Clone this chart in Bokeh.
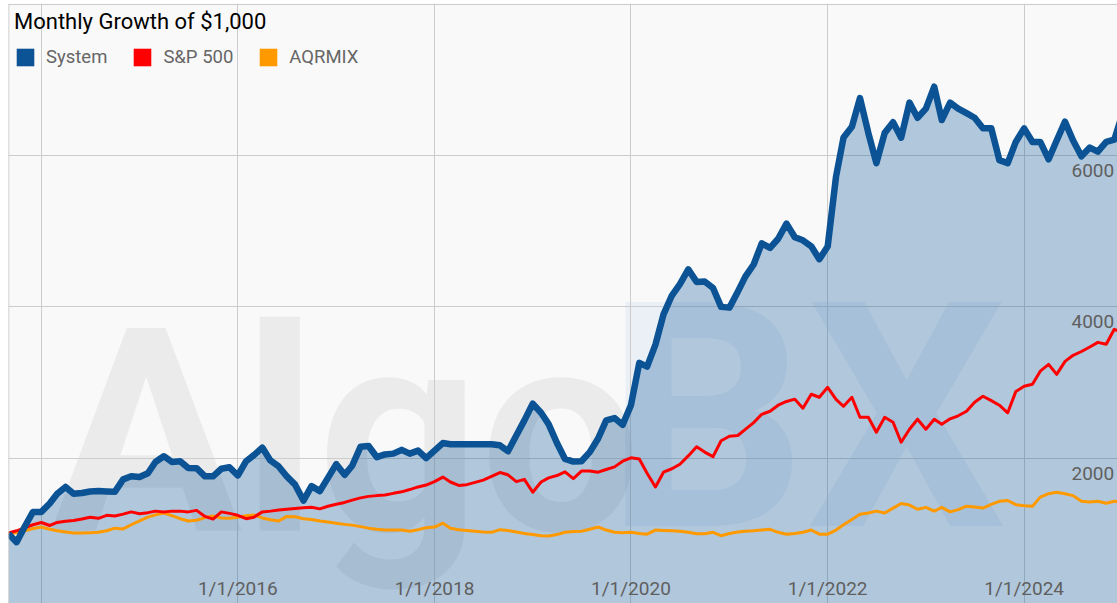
import pandas as pd
from bokeh.plotting import figure
from bokeh.models import (Range1d, Grid, FixedTicker, Span, Legend, LegendItem,
                          Label, ColumnDataSource)
from bokeh.core.properties import value
from bokeh.embed import file_html
from bokeh.resources import INLINE

# ---------------- data ----------------
START = "2013-09-01"
system = [1000, 890, 1100, 1290, 1290, 1400, 1530, 1620, 1530, 1540,
          1560, 1565, 1560, 1555, 1720, 1760, 1750, 1800, 1950, 2026,
          1950, 1960, 1870, 1868, 1760, 1760, 1860, 1880, 1770, 1960,
          2040, 2140, 1970, 1890, 1760, 1650, 1440, 1630, 1565, 1740,
          1921, 1780, 1900, 2150, 2160, 2013, 2050, 2060, 2110, 2060,
          2100, 2000, 2100, 2200, 2185, 2185, 2185, 2185, 2185, 2185,
          2170, 2092, 2300, 2500, 2720, 2600, 2450, 2200, 1990, 1955,
          1960, 2080, 2260, 2500, 2530, 2440, 2700, 3260, 3210, 3500,
          3900, 4150, 4300, 4495, 4330, 4336, 4250, 4000, 3990, 4200,
          4400, 4560, 4840, 4780, 4900, 5100, 4920, 4880, 4800, 4630,
          4798, 5720, 6240, 6380, 6760, 6300, 5900, 6300, 6440, 6237,
          6700, 6500, 6620, 6910, 6470, 6700, 6620, 6560, 6500, 6360,
          6360, 5940, 5900, 6180, 6360, 6180, 6180, 5950, 6200, 6448,
          6200, 5990, 6105, 6052, 6180, 6210, 6560]
sp500 = [1010, 1040, 1080, 1120, 1150, 1110, 1150, 1165, 1175, 1195,
         1220, 1205, 1245, 1235, 1260, 1290, 1265, 1280, 1300, 1290,
         1300, 1300, 1290, 1310, 1230, 1195, 1290, 1270, 1245, 1200,
         1220, 1290, 1300, 1315, 1325, 1335, 1345, 1350, 1330, 1365,
         1390, 1415, 1445, 1475, 1495, 1505, 1512, 1535, 1555, 1585,
         1620, 1645, 1690, 1750, 1685, 1640, 1650, 1680, 1710, 1760,
         1810, 1780, 1690, 1720, 1550, 1685, 1740, 1770, 1820, 1730,
         1830, 1830, 1815, 1850, 1885, 1960, 2005, 1990, 1800, 1620,
         1815, 1860, 1920, 2030, 2150, 2080, 2020, 2230, 2290, 2300,
         2380, 2470, 2580, 2620, 2700, 2750, 2780, 2660, 2845, 2805,
         2937, 2778, 2686, 2805, 2541, 2541, 2343, 2541, 2475, 2211,
         2383, 2515, 2383, 2515, 2449, 2520, 2560, 2620, 2739, 2818,
         2760, 2700, 2600, 2880, 2950, 2977, 3150, 3240, 3108, 3280,
         3360, 3410, 3470, 3531, 3505, 3703, 3660]
aqrmix = [1000, 1015, 1040, 1070, 1090, 1060, 1040, 1025, 1010, 1010,
          1015, 1020, 1040, 1075, 1065, 1120, 1170, 1220, 1250, 1275,
          1240, 1200, 1170, 1180, 1215, 1235, 1210, 1205, 1220, 1240,
          1250, 1210, 1185, 1170, 1230, 1225, 1200, 1190, 1170, 1155,
          1140, 1125, 1115, 1095, 1075, 1060, 1050, 1050, 1050, 1035,
          1055, 1080, 1090, 1140, 1075, 1055, 1045, 1035, 1025, 1020,
          1055, 1045, 1025, 1005, 990, 975, 970, 990, 1020, 1030,
          1035, 1060, 1090, 1050, 1020, 1015, 1020, 1005, 995, 1050,
          1045, 1040, 1035, 1020, 1000, 1000, 1020, 975, 1005, 1025,
          1035, 1040, 1050, 1060, 1020, 995, 1005, 1020, 1050, 995,
          995, 1050, 1120, 1190, 1260, 1275, 1300, 1275, 1340, 1400,
          1380, 1325, 1350, 1300, 1350, 1290, 1320, 1365, 1355, 1340,
          1390, 1430, 1440, 1385, 1370, 1365, 1485, 1530, 1550, 1530,
          1505, 1430, 1420, 1430, 1405, 1430, 1425]

x_tick_dates = ["2016-01-01", "2018-01-01", "2020-01-01", "2022-01-01", "2024-01-01"]
x_tick_labels = ["1/1/2016", "1/1/2018", "1/1/2020", "1/1/2022", "1/1/2024"]
x_grid_dates = ["2014-01-01", "2016-01-01", "2018-01-01", "2020-01-01",
                "2022-01-01", "2024-01-01"]
y_ticks = [2000, 4000, 6000]
y_tick_labels = ["2000", "4000", "6000"]
y_grid = [2000, 4000, 6000, 8000]

title_text = "Monthly Growth of $1,000"
series_names = ["System", "S&P 500", "AQRMIX"]
SYS_C, SP_C, AQR_C = "#0b5394", "#ff0000", "#ff9900"

# ---------------- figure ----------------
dates = pd.date_range(START, periods=len(system), freq="MS")
src = ColumnDataSource(dict(date=dates, system=system, sp500=sp500, aqrmix=aqrmix))

x_start = dates[0]
x_end = pd.Timestamp("2024-01-01") + pd.Timedelta(days=0.95 * 365.25)
Y_START, Y_END = 79, 8010

p = figure(width=1117, height=603, output_backend="svg", toolbar_location=None,
           x_axis_type=None, y_axis_type=None,
           x_range=Range1d(x_start, x_end), y_range=Range1d(Y_START, Y_END),
           min_border_left=8, min_border_top=3, min_border_right=0, min_border_bottom=0,
           background_fill_color="#f9f9f9", border_fill_color="#ffffff",
           outline_line_color=None)

def ms(d):
    return pd.Timestamp(d).value // 10**6

p.add_layout(Grid(dimension=0, ticker=FixedTicker(ticks=[ms(d) for d in x_grid_dates]),
                  grid_line_color="#cccccc", grid_line_width=1))
p.add_layout(Grid(dimension=1, ticker=FixedTicker(ticks=y_grid),
                  grid_line_color="#cccccc", grid_line_width=1))
p.add_layout(Span(location=ms(x_start), dimension="height",
                  line_color="#c4c4c4", line_width=1.5))

# watermark
p.add_layout(Label(x=42, y=170, x_units="screen", y_units="screen", text="Algo",
                   text_align="left", text_baseline="alphabetic",
                   text_font="Roboto", text_font_style="bold", text_font_size="285px",
                   text_color="#000000", text_alpha=0.055, level="image"))
p.add_layout(Label(x=597, y=185, x_units="screen", y_units="screen", text="BX",
                   text_align="left", text_baseline="alphabetic",
                   text_font="Roboto", text_font_style="bold", text_font_size="315px",
                   text_color="#2f7fd0", text_alpha=0.065, level="image"))

# series
p.varea(x="date", y1=0, y2="system", source=src, fill_color=SYS_C, fill_alpha=0.3)
p.line(x="date", y="aqrmix", source=src, line_color=AQR_C, line_width=3, line_join="round")
p.line(x="date", y="sp500", source=src, line_color=SP_C, line_width=3, line_join="round")
p.line(x="date", y="system", source=src, line_color=SYS_C, line_width=6.5, line_join="round")

# tick labels (inside plot, Google-chart style)
xl = ColumnDataSource(dict(x=pd.to_datetime(x_tick_dates), y=[Y_START] * len(x_tick_dates),
                           t=x_tick_labels))
p.text(x="x", y="y", text="t", source=xl, text_align="center", text_baseline="middle",
       y_offset=-15, text_font=value("Roboto"), text_font_size="19px",
       text_color="#5f5f5f")
yl = ColumnDataSource(dict(x=[x_end] * len(y_ticks), y=y_ticks, t=y_tick_labels))
p.text(x="x", y="y", text="t", source=yl, text_align="left", text_baseline="middle",
       x_offset=-46, y_offset=15, text_font=value("Roboto"), text_font_size="19px",
       text_color="#5f5f5f")

# legend with swatches
nan = float("nan")
r_items = []
for name, c in zip(series_names, [SYS_C, SP_C, AQR_C]):
    r = p.quad(left=[nan], right=[nan], top=[nan], bottom=[nan],
               fill_color=c, line_color=None)
    r_items.append(LegendItem(label=name, renderers=[r]))

legend = Legend(items=r_items, title=title_text, orientation="horizontal",
                location="top_left", margin=6, padding=9,
                title_text_font="Roboto", title_text_font_size="22px",
                title_text_color="#000000", title_text_font_style="normal",
                title_standoff=12,
                label_text_font="Roboto", label_text_font_size="18.5px",
                label_text_color="#666666",
                glyph_width=22, glyph_height=22, label_standoff=10, spacing=24,
                background_fill_alpha=0, border_line_color=None)
p.add_layout(legend)

open("out.html", "w").write(file_html(p, INLINE))
